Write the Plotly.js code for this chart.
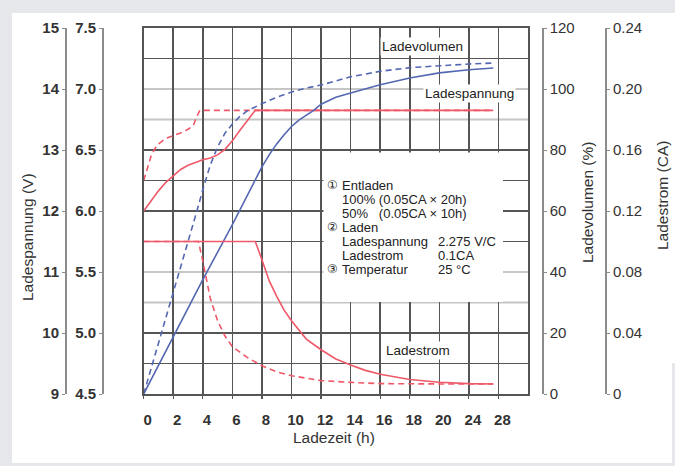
<!DOCTYPE html>
<html>
<head>
<meta charset="utf-8">
<script src="https://cdn.plot.ly/plotly-3.0.1.min.js"></script>
<style>
  html, body { margin:0; padding:0; }
  body { width:675px; height:466px; background:#e6e7ea; position:relative; overflow:hidden; }
  #paper { position:absolute; left:12px; top:13px; width:663px; height:450px; background:#ffffff; }
  #rstrip { position:absolute; left:672px; top:363px; width:3px; height:103px; background:#e6e7ea; }
  #chart { position:absolute; left:0; top:0; width:675px; height:466px; }
</style>
</head>
<body>
<div id="paper"></div>
<div id="rstrip"></div>
<div id="chart"></div>
<script>
// ---------------- data ----------------
// x axis tick labels (hours). The original axis is compressed after 20 h.
const xTickHours = [0, 2, 4, 6, 8, 10, 12, 14, 16, 18, 20, 24, 28];

// Ladespannung (V), 100 % discharged (solid) and 50 % discharged (dashed)
const voltFullHours = [0, 0.5, 1, 1.5, 2, 2.5, 3, 3.5, 4, 4.5, 5, 5.5, 6, 6.5, 7, 7.55, 27.3];
const voltFull      = [12.0, 12.17, 12.33, 12.47, 12.58, 12.68, 12.75, 12.8, 12.84, 12.87, 12.92, 13.01, 13.15, 13.32, 13.48, 13.65, 13.65];
const voltHalfHours = [0, 0.25, 0.5, 0.75, 1, 1.5, 2, 2.5, 3, 3.35, 3.6, 3.8, 27.3];
const voltHalf      = [12.5, 12.72, 12.9, 13.02, 13.1, 13.19, 13.23, 13.28, 13.34, 13.4, 13.55, 13.65, 13.65];

// Ladevolumen (%)
const volFullHours = [0, 2, 4, 6, 7, 7.5, 8, 8.5, 9, 9.5, 10, 10.5, 11, 11.5, 12, 13, 14, 16, 18, 20, 24, 27.3];
const volFull      = [0, 19, 37.5, 55.5, 65, 70, 74.5, 78.5, 82, 85, 87.7, 89.8, 91.5, 93, 95, 97.3, 98.7, 101.4, 103.6, 105.3, 106.3, 106.9];
const volHalfHours = [0, 1, 2, 3, 3.6, 4, 4.5, 5, 5.5, 6, 6.5, 7, 7.5, 8, 9, 10, 11, 12, 14, 16, 18, 20, 24, 27.3];
const volHalf      = [0, 16.5, 33, 50, 60, 67, 75, 81, 85.5, 88.5, 91, 92.8, 94, 95.2, 97.3, 99, 100.3, 101.3, 104, 105.8, 107, 107.7, 108.2, 108.5];

// Ladestrom (CA)
const curFullHours = [0, 7.55, 8, 8.5, 9, 9.5, 10, 10.5, 11, 12, 13, 14, 15, 16, 18, 20, 24, 27.3];
const curFull      = [0.1, 0.1, 0.088, 0.074, 0.064, 0.055, 0.048, 0.042, 0.036, 0.029, 0.023, 0.019, 0.0155, 0.013, 0.0095, 0.0077, 0.0068, 0.0066];
const curHalfHours = [0, 3.7, 4, 4.25, 4.5, 5, 5.5, 6, 7, 8, 9, 10, 12, 14, 16, 20, 24, 27.3];
const curHalf      = [0.1, 0.1, 0.087, 0.074, 0.063, 0.048, 0.038, 0.031, 0.024, 0.0185, 0.0145, 0.012, 0.0088, 0.0076, 0.0068, 0.0066, 0.0066, 0.0066];

// axis ticks
const voltTicks = [9, 10, 11, 12, 13, 14, 15];
const cellTicks = [4.5, 5.0, 5.5, 6.0, 6.5, 7.0, 7.5];
const volTicks  = [0, 20, 40, 60, 80, 100, 120];
const curTicks  = [0, 0.04, 0.08, 0.12, 0.16, 0.20, 0.24];
const curTickText = ['0', '0.04', '0.08', '0.12', '0.16', '0.20', '0.24'];
const darkGridV  = [9.5, 10, 11.5, 12, 12.5, 13, 14.5];
const lightGridV = [10.5, 11, 13.5, 14];

// texts
const infoCircled = ['①', '②', '③'];
const infoLeft  = ['Entladen', '100% (0.05CA × 20h)', '50%\u00a0\u00a0\u00a0(0.05CA × 10h)', 'Laden', 'Ladespannung', 'Ladestrom', 'Temperatur'];
const infoRight = ['2.275 V/C', '0.1CA', '25 °C'];

// ---------------- layout helpers ----------------
const W = 675, TOP = 28, BOT = 394, PH = BOT - TOP;
const px = x => x / W;
const py = y => (BOT - y) / PH;
// piecewise mapping of the original (compressed after 20 h) time axis
const pos = h => h <= 20 ? h : 20 + (h - 20) / 2;

const RED = 'rgb(238,88,104)', BLUE = 'rgb(84,104,178)';
const DARK = '#555555', LIGHT = '#c6c6c6', AXC = '#8c8c8c';
const FONT = 'Liberation Sans, Arial, sans-serif';
const X0 = px(143.7), X1 = px(528);

function tr(h, v, axis, color, dash, hidden) {
  return { x: h.map(pos), y: v, yaxis: axis, type: 'scatter', mode: 'lines',
           line: { color: hidden ? 'rgba(0,0,0,0)' : color, width: 1.6, dash: dash ? '6px,4px' : 'solid' },
           hoverinfo: 'skip', showlegend: false };
}
const traces = [
  // invisible carriers so that the overlaid scale axes are drawn
  tr(voltFullHours, voltFull.map(v => v / 2), 'y2', RED, false, true),
  tr(voltFullHours, voltFull, 'y5', RED, false, true),
  // visible curves
  tr(voltHalfHours, voltHalf, 'y', RED, true),
  tr(voltFullHours, voltFull, 'y', RED, false),
  tr(volHalfHours, volHalf, 'y3', BLUE, true),
  tr(volFullHours, volFull, 'y3', BLUE, false),
  tr(curHalfHours, curHalf, 'y4', RED, true),
  tr(curFullHours, curFull, 'y4', RED, false)
];

const tickFontBold = { family: FONT, size: 15, color: '#333', weight: 'bold' };
const tickFontReg  = { family: FONT, size: 15, color: '#333' };

const annotations = [];
function ann(text, x, y, size, opts) {
  annotations.push(Object.assign({ text: text, xref: 'paper', yref: 'paper', x: px(x), y: py(y),
    xanchor: 'left', yanchor: 'middle', showarrow: false,
    font: { family: FONT, size: size, color: '#222' } }, opts || {}));
}
// info box
const lineY = [185, 199, 213, 227, 241, 255, 269];
ann(infoCircled[0], 325, lineY[0], 12);
ann(infoCircled[1], 325, lineY[3], 12);
ann(infoCircled[2], 325, lineY[6], 12);
infoLeft.forEach((t, i) => ann(t, 339.5, lineY[i], 13));
ann(infoRight[0], 435.5, lineY[4], 13);
ann(infoRight[1], 435.5, lineY[5], 13);
ann(infoRight[2], 435.5, lineY[6], 13);
// curve labels with white background
ann('Ladevolumen', 422, 47, 13.5, { xanchor: 'center', bgcolor: '#fff', borderpad: 1 });
ann('Ladespannung', 469.5, 94, 13.5, { xanchor: 'center', bgcolor: '#fff', borderpad: 1 });
ann('Ladestrom', 418, 350, 13.5, { xanchor: 'center', bgcolor: '#fff', borderpad: 1 });
// axis titles
const titleFont = { family: FONT, size: 15.5, color: '#333' };
ann('Ladespannung (V)', 27, 237, 15.5, { xanchor: 'center', textangle: -90, font: titleFont });
ann('Ladevolumen (%)', 587, 203, 15.5, { xanchor: 'center', textangle: -90, font: titleFont });
ann('Ladestrom (CA)', 663, 196, 15.5, { xanchor: 'center', textangle: -90, font: titleFont });
ann('Ladezeit (h)', 334, 437, 15.5, { xanchor: 'center', font: titleFont });

// light horizontal grid lines (drawn under the dark grid)
const shapes = lightGridV.map(v => ({
  type: 'line', layer: 'below', xref: 'paper', yref: 'y',
  x0: X0, x1: X1, y0: v, y1: v, line: { color: LIGHT, width: 2.2 }
}));
// white panel behind the test-condition text
shapes.push({ type: 'rect', layer: 'above', xref: 'paper', yref: 'paper',
  x0: px(323.5), x1: px(503), y0: py(302), y1: py(152.5),
  fillcolor: '#ffffff', line: { width: 0 } });

const layout = {
  width: 675, height: 466,
  margin: { l: 0, r: 0, t: TOP, b: 466 - BOT },
  paper_bgcolor: 'rgba(0,0,0,0)', plot_bgcolor: 'rgba(0,0,0,0)',
  showlegend: false,
  xaxis: {
    domain: [X0, X1], range: [0, 26],
    tickvals: xTickHours.map(pos), ticktext: xTickHours.map(String),
    showgrid: true, gridcolor: DARK, gridwidth: 1.6, zeroline: false,
    showline: true, mirror: true, linecolor: DARK, linewidth: 1.6,
    ticks: 'outside', ticklen: 3, tickcolor: DARK, tickwidth: 1.2,
    ticklabelshift: 4, ticklabelstandoff: 8, tickfont: tickFontBold
  },
  // main y axis: carries the voltage curves and the dark horizontal grid / plot frame
  yaxis: {
    range: [9, 15], anchor: 'x', side: 'left',
    tickvals: darkGridV, showticklabels: false, ticks: '',
    showgrid: true, gridcolor: DARK, gridwidth: 1.6, zeroline: false,
    showline: true, mirror: true, linecolor: DARK, linewidth: 1.6
  },
  // labelled battery-voltage scale (12 V)
  yaxis5: {
    range: [9, 15], anchor: 'free', position: px(66), side: 'left', overlaying: 'y',
    tickvals: voltTicks, showgrid: false, zeroline: false,
    showline: true, linecolor: AXC, linewidth: 2,
    ticks: 'outside', ticklen: 3, tickcolor: AXC, tickfont: tickFontBold
  },
  // labelled battery-voltage scale (6 V)
  yaxis2: {
    range: [4.5, 7.5], anchor: 'free', position: px(103), side: 'left', overlaying: 'y',
    tickvals: cellTicks, tickformat: '.1f', showgrid: false, zeroline: false,
    showline: true, linecolor: AXC, linewidth: 2,
    ticks: 'outside', ticklen: 3, tickcolor: AXC, tickfont: tickFontBold
  },
  yaxis3: {
    range: [0, 120], anchor: 'free', position: px(542.7), side: 'right', overlaying: 'y',
    tickvals: volTicks, showgrid: false, zeroline: false,
    showline: true, linecolor: AXC, linewidth: 2,
    ticks: 'outside', ticklen: 3, tickcolor: AXC, tickfont: tickFontReg
  },
  yaxis4: {
    range: [0, 0.24], anchor: 'free', position: px(606), side: 'right', overlaying: 'y',
    tickvals: curTicks, ticktext: curTickText, showgrid: false, zeroline: false,
    showline: true, linecolor: AXC, linewidth: 2,
    ticks: 'outside', ticklen: 3, tickcolor: AXC, tickfont: tickFontReg
  },
  shapes: shapes,
  annotations: annotations
};

Plotly.newPlot('chart', traces, layout, { staticPlot: true, displayModeBar: false });
</script>
</body>
</html>
